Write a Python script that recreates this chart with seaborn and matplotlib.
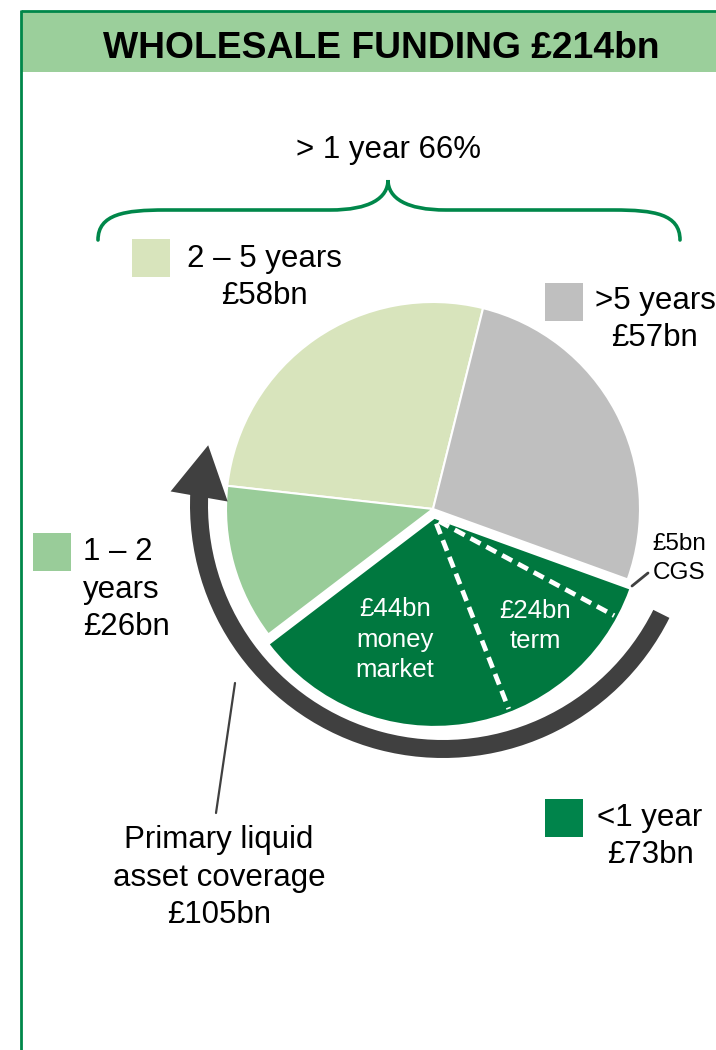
import matplotlib
matplotlib.use("Agg")
import matplotlib.pyplot as plt
from matplotlib.patches import Rectangle, Wedge, Polygon, PathPatch
from matplotlib.path import Path
import numpy as np
import seaborn as sns

sns.set_theme(style="white")
plt.rcParams["font.family"] = ["Liberation Sans", "DejaVu Sans"]
plt.rcParams["text.color"] = "black"

# Wholesale funding by residual maturity (£bn), drawn anticlockwise from the top
segments = ["2 – 5 years", "1 – 2 years", "<1 year", ">5 years"]
amounts = [58, 26, 73, 57]
seg_colors = ["#D8E4BC", "#99CC99", "#00783F", "#BFBFBF"]
key_colors = ["#D8E4BC", "#99CC99", "#00844B", "#BFBFBF"]

# Split of the <1 year bucket
short_labels = ["money\nmarket", "term", "CGS"]
short_amounts = [44, 24, 5]

liquid_cover = 105  # primary liquid assets, £bn

total = sum(amounts)
over_one_year = round(100 * (total - amounts[2]) / total)

GREEN = "#00874A"
DARK = "#404040"
W, H = 716, 1050


def Y(py):
    """Convert a top-down pixel row into the axes' y coordinate."""
    return H - py


fig = plt.figure(figsize=(W / 100, H / 100), dpi=100)
ax = fig.add_axes([0, 0, 1, 1])

# ---- pie -------------------------------------------------------------
pie_c = (433, Y(509))
R = 207
wedges, _ = ax.pie(
    amounts, startangle=76, counterclock=True, colors=seg_colors,
    center=pie_c, radius=R,
    wedgeprops=dict(edgecolor="white", linewidth=1.5),
)
ax.set_xlim(0, W)
ax.set_ylim(0, H)
ax.set_aspect("equal")
ax.axis("off")

# pull the <1 year wedge outwards
short = wedges[2]
mid = np.deg2rad((short.theta1 + short.theta2) / 2)
shift = 10
scx = pie_c[0] + shift * np.cos(mid)
scy = pie_c[1] + shift * np.sin(mid)
short.set_center((scx, scy))
short.set_edgecolor("none")

# dashed dividers between the <1 year components
ang = short.theta1
for v in short_amounts[:-1]:
    ang += 360 * v / total
    t = np.deg2rad(ang)
    ax.plot([scx + 5 * np.cos(t), scx + (R - 3) * np.cos(t)],
            [scy + 5 * np.sin(t), scy + (R - 3) * np.sin(t)],
            color="white", lw=3.4, ls=(0, (2.4, 1.4)), zorder=4)

# ---- liquid asset coverage arc with arrow head --------------------------
arc_c = (443, Y(505))
r_out, band = 253, 18
ax.add_patch(Wedge(arc_c, r_out, 177, 333.5, width=band,
                   facecolor=DARK, edgecolor="none", zorder=3))
phi = np.deg2rad(178)
r_mid = r_out - band / 2
base = np.array([arc_c[0] + r_mid * np.cos(phi), arc_c[1] + r_mid * np.sin(phi)])
tilt = np.deg2rad(10)
d = np.array([np.sin(tilt), np.cos(tilt)])
n = np.array([d[1], -d[0]])
head = [base + 29 * n, base + 52 * d, base - 29 * n]
ax.add_patch(Polygon(head, closed=True, facecolor=DARK, edgecolor="none", zorder=3))

# ---- panel frame and heading --------------------------------------------
ax.add_patch(Rectangle((21, Y(72)), W - 21, 60, facecolor="#9BCF9B",
                       edgecolor="none", zorder=1))
ax.plot([21, W], [Y(11), Y(11)], color=GREEN, lw=2, solid_capstyle="butt")
ax.plot([21, 21], [Y(10), 0], color=GREEN, lw=2, solid_capstyle="butt")
ax.text(381.5, Y(58.5), f"WHOLESALE FUNDING £{total}bn", ha="center",
        va="baseline", fontsize=26.8, fontweight="bold")

# ---- brace over the >1 year buckets ------------------------------------
bp = [(98, 240), (98, 214), (125, 210), (165, 210),
      (330, 210),
      (370, 210), (388, 198), (388, 180),
      (388, 198), (406, 210), (446, 210),
      (614, 210),
      (654, 210), (680, 214), (680, 240)]
codes = [Path.MOVETO, Path.CURVE4, Path.CURVE4, Path.CURVE4,
         Path.LINETO,
         Path.CURVE4, Path.CURVE4, Path.CURVE4,
         Path.CURVE4, Path.CURVE4, Path.CURVE4,
         Path.LINETO,
         Path.CURVE4, Path.CURVE4, Path.CURVE4]
brace = Path([(x, Y(y)) for x, y in bp], codes)
ax.add_patch(PathPatch(brace, facecolor="none", edgecolor=GREEN, lw=2.6,
                       capstyle="round"))
ax.text(389, Y(158), f"> 1 year {over_one_year}%", ha="center",
        va="baseline", fontsize=22.5)

# ---- key squares and labels (anchored on the last line's baseline) -----
LS = 1.32
FS = 22.5
key_boxes = [(132, 239), (33, 533), (545, 799), (545, 283)]
for (kx, ky), col in zip(key_boxes, key_colors):
    ax.add_patch(Rectangle((kx, Y(ky + 38)), 38, 38, facecolor=col,
                           edgecolor="none"))

ax.text(264, Y(304), f"{segments[0]}\n£{amounts[0]}bn", ha="center",
        va="baseline", fontsize=FS, linespacing=LS, multialignment="center")
ax.text(83, Y(635), "1 – 2\nyears\n" + f"£{amounts[1]}bn", ha="left",
        va="baseline", fontsize=FS, linespacing=LS)
ax.text(650, Y(863), f"{segments[2]}\n£{amounts[2]}bn", ha="center",
        va="baseline", fontsize=FS, linespacing=LS, multialignment="center")
ax.text(655, Y(346), f"{segments[3]}\n£{amounts[3]}bn", ha="center",
        va="baseline", fontsize=FS, linespacing=LS, multialignment="center")

# labels inside the <1 year wedge
ax.text(395, Y(677), f"£{short_amounts[0]}bn\n{short_labels[0]}",
        ha="center", va="baseline", fontsize=18.5, color="white",
        linespacing=1.33, multialignment="center", zorder=5)
ax.text(535.5, Y(648), f"£{short_amounts[1]}bn\n{short_labels[1]}",
        ha="center", va="baseline", fontsize=18.5, color="white",
        linespacing=1.33, multialignment="center", zorder=5)

# CGS callout
ax.text(679, Y(579), f"£{short_amounts[2]}bn\n{short_labels[2]}",
        ha="center", va="baseline", fontsize=17.5, linespacing=1.4,
        multialignment="center")
ax.plot([632, 648], [Y(586), Y(573)], color=DARK, lw=2)

# coverage callout
ax.plot([235, 216], [Y(683), Y(813)], color=DARK, lw=1.6)
ax.text(219, Y(923), f"Primary liquid\nasset coverage\n£{liquid_cover}bn",
        ha="center", va="baseline", fontsize=FS, linespacing=LS,
        multialignment="center")

fig.savefig("out.png", dpi=100, facecolor="white")
